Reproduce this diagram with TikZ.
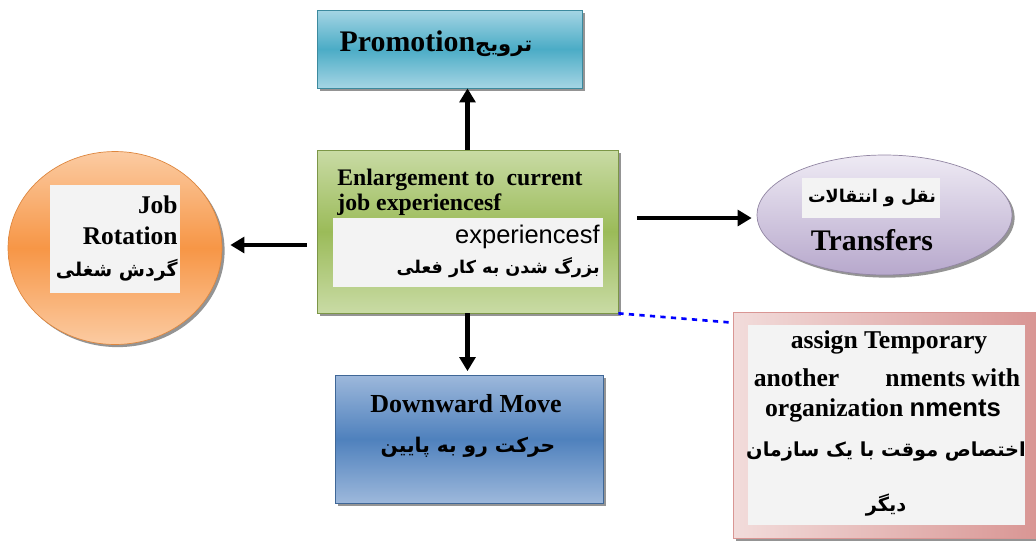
\documentclass[tikz,border=0pt]{standalone}
\usepackage{fontspec}
\setmainfont{Liberation Serif}
\setsansfont{Liberation Sans}
\newfontfamily\fa[Script=Arabic]{DejaVu Sans}
\TeXXeTstate=1
\usetikzlibrary{arrows.meta,shadows,shapes.geometric}

\definecolor{promomid}{HTML}{4BACC6}
\definecolor{promolight}{HTML}{A5D5E4}
\definecolor{greenmid}{HTML}{9BBB59}
\definecolor{greenlight}{HTML}{C9DBA5}
\definecolor{bluemid}{HTML}{4F81BD}
\definecolor{bluelight}{HTML}{9DB8DB}
\definecolor{orangemid}{HTML}{F79646}
\definecolor{orangelight}{HTML}{FBCBA2}
\definecolor{lavmid}{HTML}{B7A8CC}
\definecolor{lavlight}{HTML}{EEEAF4}
\definecolor{pinkmid}{HTML}{D99694}
\definecolor{pinklight}{HTML}{F2DCDB}
\definecolor{paper}{HTML}{F3F3F3}

\begin{document}
\begin{tikzpicture}[x=0.02cm,y=-0.02cm,
    shade/.style={drop shadow={shadow xshift=1.5pt,shadow yshift=-1.5pt,fill=black!60,opacity=.7}},
    card/.style={rectangle,inner sep=0pt,fill=paper},
    arr/.style={line width=2.4pt,-{Triangle[length=8pt,width=9pt]}},
    en/.style={font=\bfseries\fontsize{#1}{#1}\selectfont,inner sep=0pt},
    fatext/.style={font=\fa\bfseries\fontsize{#1}{#1}\selectfont,inner sep=0pt}]
  \useasboundingbox (0,0) rectangle (1036,542);

  % boxes round the middle
  \node[rectangle,shade,draw=promomid!80!black,top color=promolight,bottom color=promolight,middle color=promomid,
        minimum width=5.3cm,minimum height=1.56cm] (promo) at (449.5,49) {};
  \node[rectangle,shade,draw=greenmid!80!black,top color=greenlight,bottom color=greenlight,middle color=greenmid,
        minimum width=6.02cm,minimum height=3.26cm] (enlarge) at (467.5,231.5) {};
  \node[card,minimum width=5.4cm,minimum height=1.38cm] (enlargecard) at (468,252.5) {};
  \node[rectangle,shade,draw=bluemid!80!black,top color=bluelight,bottom color=bluelight,middle color=bluemid,
        minimum width=5.36cm,minimum height=2.56cm] (down) at (469,439) {};
  \node[ellipse,shade,draw=orangemid!90!black,top color=orangelight,bottom color=orangelight,middle color=orangemid,
        minimum width=4.28cm,minimum height=3.86cm] (rotation) at (115,248) {};
  \node[card,minimum width=2.6cm,minimum height=2.16cm] (rotationcard) at (115,239) {};
  \node[ellipse,shade,draw=lavmid!80!black,top color=lavlight,bottom color=lavmid,
        minimum width=5.1cm,minimum height=2.4cm] (transfers) at (884.5,215) {};
  \node[card,minimum width=2.76cm,minimum height=0.8cm] (transferscard) at (871,198) {};
  \node[rectangle,shade,draw=pinkmid,left color=pinklight,right color=pinkmid,
        minimum width=6.06cm,minimum height=4.52cm] (temp) at (884.5,425) {};
  \node[card,minimum width=5.54cm,minimum height=4cm] (tempcard) at (886.5,425) {};

  % texts
  \node[en=17] (promotext) at (436,44) {Promotion{\fa\fontsize{12}{12}\selectfont\beginR ترویج\endR}};
  \node[en=13.5,anchor=west] (enl1) at (337,180) {Enlargement to\ \ current};
  \node[en=13.5,anchor=west] (enl2) at (337,205) {job experiencesf};
  \node[anchor=east,inner sep=0pt,font=\sffamily\fontsize{14.5}{14.5}\selectfont] (enl3) at (600,237) {experiencesf};
  \node[fatext=10,anchor=east] (enl4) at (600,268) {\beginR بزرگ شدن به کار فعلی\endR};
  \node[en=14.5,anchor=east] (rot1) at (178,205) {Job};
  \node[en=14.5,anchor=east] (rot2) at (178,236) {Rotation};
  \node[fatext=10.8,anchor=east] (rot3) at (178,270) {\beginR گردش شغلی\endR};
  \node[fatext=10] (tra1) at (872,198) {\beginR نقل و انتقالات\endR};
  \node[en=17] (tra2) at (872,240) {Transfers};
  \node[en=14.8] (dow1) at (466,404) {Downward Move};
  \node[fatext=11.5] (dow2) at (468,447) {\beginR حرکت رو به پایین\endR};
  \node[en=14.6] (tem1) at (889,342) {assign Temporary};
  \node[en=14.6] (tem2) at (887,378) {another\hspace{1.8em}nments with};
  \node[en=14.6] (tem3) at (883,410) {organization {\sffamily nments}};
  \node[fatext=11] (tem4) at (886,452) {\beginR اختصاص موقت با یک سازمان\endR};
  \node[fatext=11] (tem5) at (886,505) {\beginR دیگر\endR};

  % connectors
  \draw[arr] (enlarge.north) -- (enlarge.north |- promo.south);
  \draw[arr,shorten >=2pt] (enlarge.south) -- (enlarge.south |- down.north);
  \draw[arr,shorten >=0.36cm] ([xshift=-0.2cm,yshift=-0.27cm]enlarge.west) -- ([xshift=-0.2cm,yshift=-0.27cm]enlarge.west -| rotation.east);
  \draw[arr,shorten >=0.48cm] ([xshift=0.38cm,yshift=0.27cm]enlarge.east) -- ([xshift=0.38cm,yshift=0.27cm]enlarge.east -| transfers.west);
  \draw[blue,line width=1.5pt,dashed] (enlarge.south east) -- ([yshift=-0.22cm]temp.north west);
\end{tikzpicture}
\end{document}
